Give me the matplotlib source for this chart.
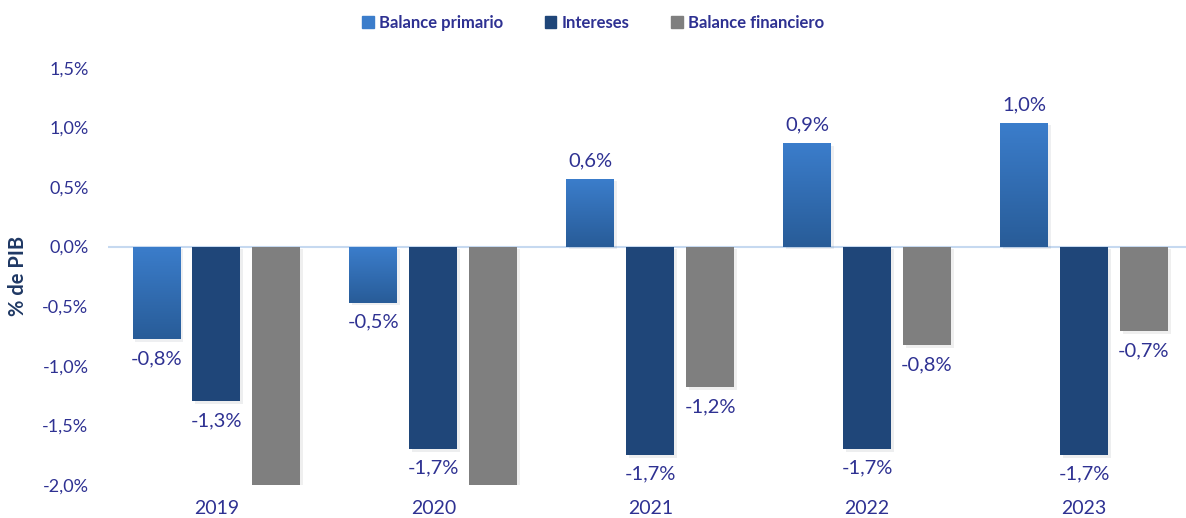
import numpy as np
import matplotlib.pyplot as plt
import matplotlib.patheffects as pe
from matplotlib.patches import Patch
from matplotlib.colors import LinearSegmentedColormap

plt.rcParams['font.family'] = ['Lato', 'DejaVu Sans']

years = ['2019', '2020', '2021', '2022', '2023']
primario = [-0.78, -0.47, 0.57, 0.87, 1.04]
intereses = [-1.30, -1.70, -1.75, -1.70, -1.75]
financiero = [-2.08, -2.17, -1.18, -0.83, -0.71]
labels_primario = ['-0,8%', '-0,5%', '0,6%', '0,9%', '1,0%']
labels_intereses = ['-1,3%', '-1,7%', '-1,7%', '-1,7%', '-1,7%']
labels_financiero = ['', '', '-1,2%', '-0,8%', '-0,7%']

txt_color = '#2E3192'
c_prim_top = '#3B7DCB'
c_prim_bot = '#285C98'
c_int = '#1F4679'
c_fin = '#7F7F7F'

fig = plt.figure(figsize=(11.86, 5.18), dpi=100)
ax = fig.add_axes([0.091, 0.064, 0.909, 0.805])

x = np.arange(len(years))
w = 0.221
step = 0.276
shadow = [pe.SimplePatchShadow(offset=(2, -2), alpha=0.07), pe.Normal()]

cmap = LinearSegmentedColormap.from_list('prim', [c_prim_bot, c_prim_top])

bars_p = ax.bar(x - step, primario, w, color=c_prim_top, zorder=3, path_effects=shadow)
for b in bars_p:
    x0, y0 = b.get_x(), b.get_y()
    h = b.get_height()
    lo, hi = min(y0, y0 + h), max(y0, y0 + h)
    grad = np.linspace(0, 1, 100).reshape(-1, 1)
    im = ax.imshow(grad, cmap=cmap, aspect='auto', origin='lower',
                   extent=(x0, x0 + w, lo, hi), zorder=4)
    im.set_clip_path(b)

bars_i = ax.bar(x, intereses, w, color=c_int, zorder=3, path_effects=shadow)
bars_f = ax.bar(x + step, financiero, w, color=c_fin, zorder=3, path_effects=shadow)

ax.axhline(0, color='#C6D9F0', lw=1.5, zorder=2)

def put_labels(bars, vals, labs):
    for b, v, t in zip(bars, vals, labs):
        if not t:
            continue
        cx = b.get_x() + b.get_width() / 2
        if v >= 0:
            ax.text(cx, v + 0.08, t, ha='center', va='bottom', fontsize=14.5, color=txt_color)
        else:
            ax.text(cx, v - 0.09, t, ha='center', va='top', fontsize=14.5, color=txt_color)

put_labels(bars_p, primario, labels_primario)
put_labels(bars_i, intereses, labels_intereses)
put_labels(bars_f, financiero, labels_financiero)

ax.set_ylim(-2.0, 1.5)
ax.set_xlim(-0.5, 4.47)
yt = np.arange(-2.0, 1.51, 0.5)
ax.set_yticks(yt)
ax.set_yticklabels([f'{v:.1f}%'.replace('.', ',') for v in yt], fontsize=13, color=txt_color)
ax.set_xticks(x)
ax.set_xticklabels(years, fontsize=14, color=txt_color)
ax.tick_params(length=0, pad=14)
ax.tick_params(axis='x', pad=11)
for s in ax.spines.values():
    s.set_visible(False)
ax.set_ylabel('% de PIB', fontsize=14.5, fontweight='bold', color='#1F3864', labelpad=10)

handles = [Patch(color=c_prim_top), Patch(color=c_int), Patch(color=c_fin)]
fig.legend(handles, ['Balance primario', 'Intereses', 'Balance financiero'],
           loc='upper center', bbox_to_anchor=(0.5, 1.0), ncol=3, frameon=False,
           handlelength=0.7, handleheight=0.7, handletextpad=0.3, columnspacing=2.5,
           prop={'size': 12, 'weight': 'bold'}, labelcolor=txt_color)

fig.savefig('out.png', dpi=100)
